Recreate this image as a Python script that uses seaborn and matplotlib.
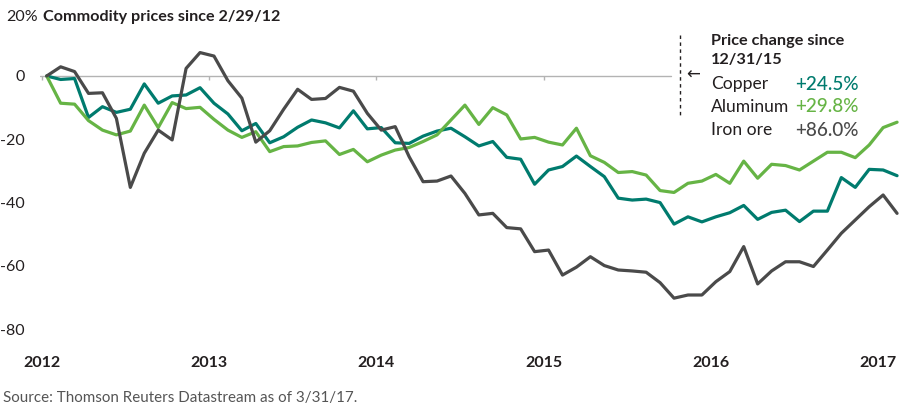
import matplotlib
matplotlib.use("Agg")
import matplotlib.pyplot as plt
import seaborn as sns
import pandas as pd
import numpy as np

# ---------------- data (percent change since 2/29/12, monthly) ----------------
copper = [0.0, -1.1, -0.8, -13.1, -9.7, -11.5, -10.5, -2.5, -8.6, -6.3,
          -6.0, -3.7, -8.6, -12.0, -17.3, -15.0, -21.1, -19.2, -16.2, -13.9,
          -14.8, -16.4, -11.0, -16.7, -16.3, -21.1, -21.3, -19.0, -17.4, -16.5,
          -19.2, -22.1, -20.7, -25.7, -26.3, -34.2, -29.7, -28.6, -25.3, -28.6,
          -31.8, -38.6, -39.2, -38.9, -40.0, -46.8, -44.5, -46.1, -44.5, -43.2,
          -40.9, -45.3, -43.1, -42.4, -46.0, -42.7, -42.7, -32.1, -35.2, -29.5,
          -29.7, -31.5]
aluminum = [0.0, -8.6, -8.9, -14.1, -17.1, -18.6, -17.4, -9.2, -16.3, -8.4,
            -10.3, -9.9, -13.7, -17.1, -19.4, -17.6, -23.9, -22.3, -22.1, -21.0,
            -20.5, -24.8, -23.2, -27.1, -25.0, -23.4, -22.6, -20.7, -18.6, -13.9,
            -9.2, -15.3, -10.0, -12.3, -19.9, -19.4, -20.9, -21.8, -16.5, -25.2,
            -27.3, -30.5, -30.2, -31.3, -36.2, -36.8, -33.9, -33.2, -31.1, -33.9,
            -26.9, -32.3, -27.9, -28.3, -29.7, -26.9, -24.1, -24.1, -25.8, -21.8,
            -16.3, -14.6]
iron_ore = [0.0, 2.9, 1.4, -5.5, -5.3, -13.4, -35.2, -24.4, -17.1, -20.2,
            2.4, 7.4, 6.3, -1.5, -7.0, -20.9, -17.3, -10.5, -4.2, -7.4,
            -7.1, -3.6, -4.8, -11.8, -17.1, -16.0, -25.5, -33.4, -33.2, -31.6,
            -37.1, -43.9, -43.4, -47.9, -48.3, -55.5, -55.0, -62.9, -60.4, -57.1,
            -59.9, -61.3, -61.6, -62.0, -65.3, -70.2, -69.2, -69.2, -65.0, -61.8,
            -53.9, -65.7, -61.6, -58.7, -58.7, -60.2, -55.0, -49.7, -45.5, -41.3,
            -37.6, -43.4]
series_names = ["Copper", "Aluminum", "Iron ore"]
changes = ["+24.5%", "+29.8%", "+86.0%"]
year_labels = ["2012", "2013", "2014", "2015", "2016", "2017"]
y_ticks = [0, -20, -40, -60, -80]

colors = {"Copper": "#007b6e", "Aluminum": "#66b445", "Iron ore": "#4a4a4a"}

months = np.arange(len(copper))
df = pd.DataFrame({
    "month": np.concatenate([months] * 3),
    "value": copper + aluminum + iron_ore,
    "series": np.repeat(series_names, len(copper)),
})

# ---------------- figure ----------------
sns.set_theme(style="white")
plt.rcParams["font.family"] = ["Lato", "DejaVu Sans"]
plt.rcParams["axes.unicode_minus"] = False

W, H = 916, 409
fig = plt.figure(figsize=(W / 100, H / 100), dpi=100)
px_left, px_right = 40, 900
px_top, px_bottom = 12.7, 354.5
ax = fig.add_axes([px_left / W, 1 - px_bottom / H,
                   (px_right - px_left) / W, (px_bottom - px_top) / H])

sns.lineplot(data=df, x="month", y="value", hue="series", hue_order=series_names,
             palette=colors, linewidth=2.3, legend=False, ax=ax, zorder=3)

ax.set_xlim(-0.48, 61.21)
ax.set_ylim(-88, 20)

for s in ax.spines.values():
    s.set_visible(False)

# zero reference line with small year ticks
tick_pos = [-0.36 + 12 * k for k in range(len(year_labels))]
ax.plot([-0.48, 44.8], [0, 0], color="#b3b3b3", linewidth=1.0, zorder=1)
ax.vlines(tick_pos[:4], -1.3, 0, color="#b3b3b3", linewidth=1.0, zorder=1)

ax.set_xticks(tick_pos)
ax.set_xticklabels(year_labels, fontsize=11.5, fontweight="bold", color="#231f20")
ax.tick_params(axis="x", length=0, pad=1)
ax.set_yticks(y_ticks)
ax.set_yticklabels([str(v) for v in y_ticks], fontsize=11.5, color="#231f20")
ax.tick_params(axis="y", length=0, pad=11)
ax.set_xlabel("")
ax.set_ylabel("")
ax.grid(False)

def fx(p):
    return p / W

def fy(p):
    return 1 - p / H

# top label + title
fig.text(fx(6), fy(17), "20%", fontsize=11.5, color="#231f20", va="center", ha="left")
fig.text(fx(43), fy(17), "Commodity prices since 2/29/12", fontsize=11.6,
         fontweight="bold", color="#231f20", va="center", ha="left")

# annotation
ax.plot([45.45, 45.45], [12.95, -12.3], color="#231f20", linewidth=1.0,
        linestyle=(0, (2.5, 2.5)), zorder=2)
fig.text(fx(686), fy(75), "\u2190", fontsize=12, color="#231f20", va="center",
         ha="left", family=["DejaVu Sans"])
fig.text(fx(711), fy(41), "Price change since", fontsize=11.7, fontweight="bold",
         color="#231f20", va="center", ha="left")
fig.text(fx(711), fy(60), "12/31/15", fontsize=11.7, fontweight="bold",
         color="#231f20", va="center", ha="left")
rows_y = [84, 107, 130]
for name, chg, yy in zip(series_names, changes, rows_y):
    fig.text(fx(711), fy(yy), name, fontsize=12.6, color="#231f20",
             va="center", ha="left")
    fig.text(fx(795), fy(yy), chg, fontsize=13.6, color=colors[name],
             va="center", ha="left", fontweight="medium")

fig.text(fx(3), fy(398), "Source: Thomson Reuters Datastream as of 3/31/17.",
         fontsize=10.9, color="#555555", va="center", ha="left")

fig.savefig("out.png", dpi=100)
